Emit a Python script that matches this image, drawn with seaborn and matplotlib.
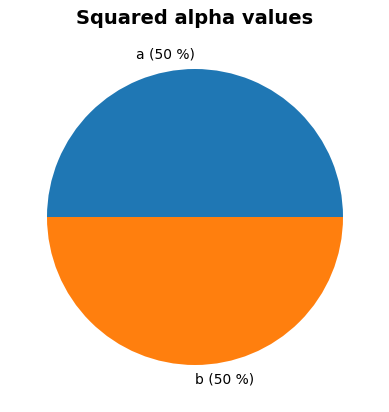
import matplotlib
matplotlib.use("Agg")
import matplotlib.pyplot as plt
import seaborn as sns

categories = ["a", "b"]
values = [50, 50]
labels = ["a (50 %)", "b (50 %)"]
title = "Squared alpha values"

plt.rcParams['font.family'] = ['DejaVu Sans']
colors = sns.color_palette("tab10", 2)

fig = plt.figure(figsize=(3.89, 4.12), dpi=100)
ax = fig.add_axes([10/389, 10/412, 370/389, 370/412])
ax.pie(values, labels=labels, colors=colors, startangle=0.0001,
       textprops={'fontsize': 10, 'color': 'black'})
ax.set_title(title, fontsize=14, fontweight='bold', color='black')
fig.savefig("out.png", dpi=100)
